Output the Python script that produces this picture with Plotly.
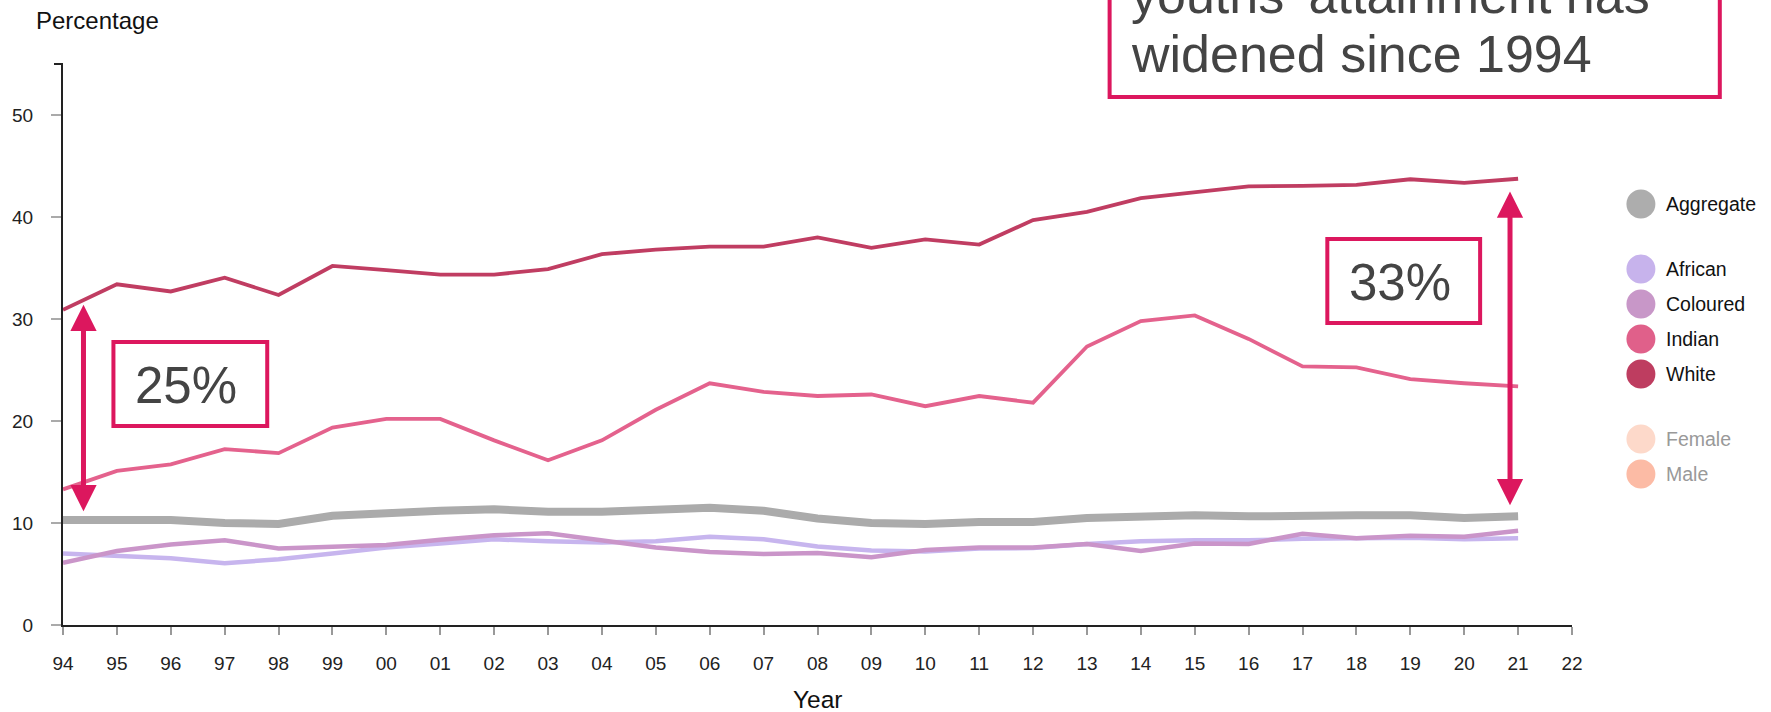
import plotly.graph_objects as go

# ---------------- data ----------------
years = list(range(1994, 2022))
tick_years = list(range(1994, 2023))
tick_labels = ["94", "95", "96", "97", "98", "99", "00", "01", "02", "03", "04", "05",
               "06", "07", "08", "09", "10", "11", "12", "13", "14", "15", "16", "17",
               "18", "19", "20", "21", "22"]

aggregate = [10.3, 10.35, 10.3, 10.0, 9.9, 10.7, 11.0, 11.2, 11.35, 11.1, 11.1, 11.3, 11.5, 11.2,
             10.45, 10.0, 9.9, 10.1, 10.1, 10.5, 10.65, 10.75, 10.65, 10.75, 10.75, 10.75, 10.5, 10.65]
african = [7.0, 6.8, 6.55, 6.05, 6.45, 7.0, 7.6, 8.0, 8.4, 8.2, 8.1, 8.2, 8.65, 8.4,
           7.7, 7.3, 7.2, 7.5, 7.55, 7.95, 8.2, 8.3, 8.3, 8.45, 8.5, 8.55, 8.4, 8.5]
coloured = [6.1, 7.25, 7.9, 8.3, 7.5, 7.7, 7.85, 8.35, 8.8, 9.0, 8.35, 7.6, 7.15, 6.95,
            7.05, 6.65, 7.35, 7.6, 7.6, 7.95, 7.25, 8.0, 7.95, 8.95, 8.5, 8.75, 8.65, 9.25]
indian = [13.3, 15.1, 15.75, 17.25, 16.85, 19.35, 20.2, 20.2, 18.1, 16.15, 18.1, 21.1, 23.7, 22.85,
          22.45, 22.6, 21.45, 22.45, 21.8, 27.3, 29.8, 30.35, 28.05, 25.35, 25.25, 24.1, 23.7, 23.4]
white = [30.9, 33.4, 32.7, 34.05, 32.35, 35.2, 34.8, 34.35, 34.35, 34.9, 36.35, 36.8, 37.1, 37.1,
         38.0, 36.98, 37.8, 37.3, 39.7, 40.5, 41.85, 42.4, 43.0, 43.05, 43.15, 43.7, 43.35, 43.75]

series_names = ["Aggregate", "African", "Coloured", "Indian", "White"]
series_values = [aggregate, african, coloured, indian, white]
series_colors = ["#ABABAB", "#C7B5EE", "#CA95C9", "#E4628D", "#C03D62"]
series_widths = [8, 4.5, 4.5, 3.8, 3.8]

legend_names = ["Aggregate", "African", "Coloured", "Indian", "White", "Female", "Male"]
legend_colors = ["#ADADAD", "#C7B3EC", "#C897C8", "#E0608A", "#BE3D60", "#FDD9CA", "#FCBBA5"]
legend_text_colors = ["#111111"] * 5 + ["#999999"] * 2

gap_left = {"label": "25%", "year": 1994.38, "top": 31.4, "bottom": 11.0}
gap_right = {"label": "33%", "year": 2020.85, "top": 42.5, "bottom": 11.6}
headline_lines = ["youths' attainment has", "widened since 1994"]

# ---------------- layout helpers ----------------
W, H = 1771, 712
L, R, T, B = 61, 1572, 64, 625   # plot area in pixels


def px_x(px):
    return (px - L) / (R - L)


def px_y(py):
    return (B - py) / (B - T)


FONT = "Liberation Sans, Arial, Helvetica, sans-serif"
ACCENT = "#DC175E"

fig = go.Figure()
for name, vals, col, w in zip(series_names, series_values, series_colors, series_widths):
    fig.add_trace(go.Scatter(x=years, y=vals, mode="lines", name=name,
                             line=dict(color=col, width=w), showlegend=False,
                             hoverinfo="skip"))

shapes = []
annotations = []

# top-of-axis outer tick
shapes.append(dict(type="line", xref="paper", yref="paper", x0=px_x(52), x1=px_x(61),
                   y0=1, y1=1, line=dict(color="#222", width=2)))


def box(x0, x1, y0, y1):
    shapes.append(dict(type="rect", xref="paper", yref="paper",
                       x0=px_x(x0), x1=px_x(x1), y0=px_y(y1), y1=px_y(y0),
                       line=dict(color=ACCENT, width=4), fillcolor="rgba(0,0,0,0)"))


box(1109, 1720, -30, 97)      # headline box (top cut off)
box(111.5, 265.5, 342, 426)   # 25% box
box(1327, 1480, 239, 323)     # 33% box

# headline text
for i, line in enumerate(headline_lines):
    annotations.append(dict(xref="paper", yref="paper", x=px_x(1128),
                            y=px_y(54 - 59 * (len(headline_lines) - 1 - i)),
                            xanchor="left", yanchor="middle", showarrow=False, text=line,
                            font=dict(family=FONT, size=52, color="#444444")))

annotations.append(dict(xref="paper", yref="paper", x=px_x(184), y=px_y(385),
                        xanchor="center", yanchor="middle", showarrow=False, text=gap_left["label"],
                        font=dict(family=FONT, size=51, color="#444444")))
annotations.append(dict(xref="paper", yref="paper", x=px_x(1400), y=px_y(282),
                        xanchor="center", yanchor="middle", showarrow=False, text=gap_right["label"],
                        font=dict(family=FONT, size=51, color="#444444")))

# double arrows
for g in (gap_left, gap_right):
    annotations.append(dict(xref="x", yref="y", axref="x", ayref="y",
                            x=g["year"], y=g["top"], ax=g["year"], ay=g["bottom"],
                            text="", showarrow=True, arrowside="end+start",
                            arrowhead=2, startarrowhead=2, arrowsize=1.05, startarrowsize=1.05,
                            arrowwidth=5, arrowcolor=ACCENT, standoff=0, startstandoff=0))

# axis titles
annotations.append(dict(xref="paper", yref="paper", x=px_x(32), y=px_y(21), xanchor="left",
                        yanchor="middle", showarrow=False, text="Percentage",
                        font=dict(family=FONT, size=24, color="#111111")))
annotations.append(dict(xref="paper", yref="paper", x=0.5, y=px_y(699), xanchor="center",
                        yanchor="middle", showarrow=False, text="Year",
                        font=dict(family=FONT, size=24.5, color="#111111")))

# manual legend
legend_y = [204, 269, 304, 339, 374, 439, 474]
for name, col, tcol, cy in zip(legend_names, legend_colors, legend_text_colors, legend_y):
    r = 14.5
    shapes.append(dict(type="circle", xref="paper", yref="paper",
                       x0=px_x(1641 - r), x1=px_x(1641 + r), y0=px_y(cy + r), y1=px_y(cy - r),
                       fillcolor=col, line=dict(width=0)))
    annotations.append(dict(xref="paper", yref="paper", x=px_x(1664), y=px_y(cy),
                            xanchor="left", yanchor="middle", showarrow=False, text=name,
                            font=dict(family=FONT, size=19.5, color=tcol)))

fig.update_layout(
    width=W, height=H,
    margin=dict(l=L, r=W - R, t=T, b=H - B, pad=0),
    paper_bgcolor="white", plot_bgcolor="white",
    showlegend=False,
    hovermode=False,
    shapes=shapes,
    annotations=annotations,
    font=dict(family=FONT, color="#222222"),
)
fig.update_xaxes(range=[1994, 2022], tickmode="array", tickvals=tick_years, ticktext=tick_labels,
                 showgrid=False, zeroline=False, showline=True, linecolor="#222222", linewidth=2,
                 ticks="outside", ticklen=8, tickwidth=1.5, tickcolor="#999999",
                 tickfont=dict(family=FONT, size=19, color="#222222"), ticklabelstandoff=12)
fig.update_yaxes(range=[0, 55], tickmode="array", tickvals=[0, 10, 20, 30, 40, 50],
                 showgrid=False, zeroline=False, showline=True, linecolor="#222222", linewidth=2,
                 ticks="outside", ticklen=10, tickwidth=1.5, tickcolor="#AAAAAA",
                 tickfont=dict(family=FONT, size=19, color="#222222"), ticklabelstandoff=14)

fig.write_html("out.html")
